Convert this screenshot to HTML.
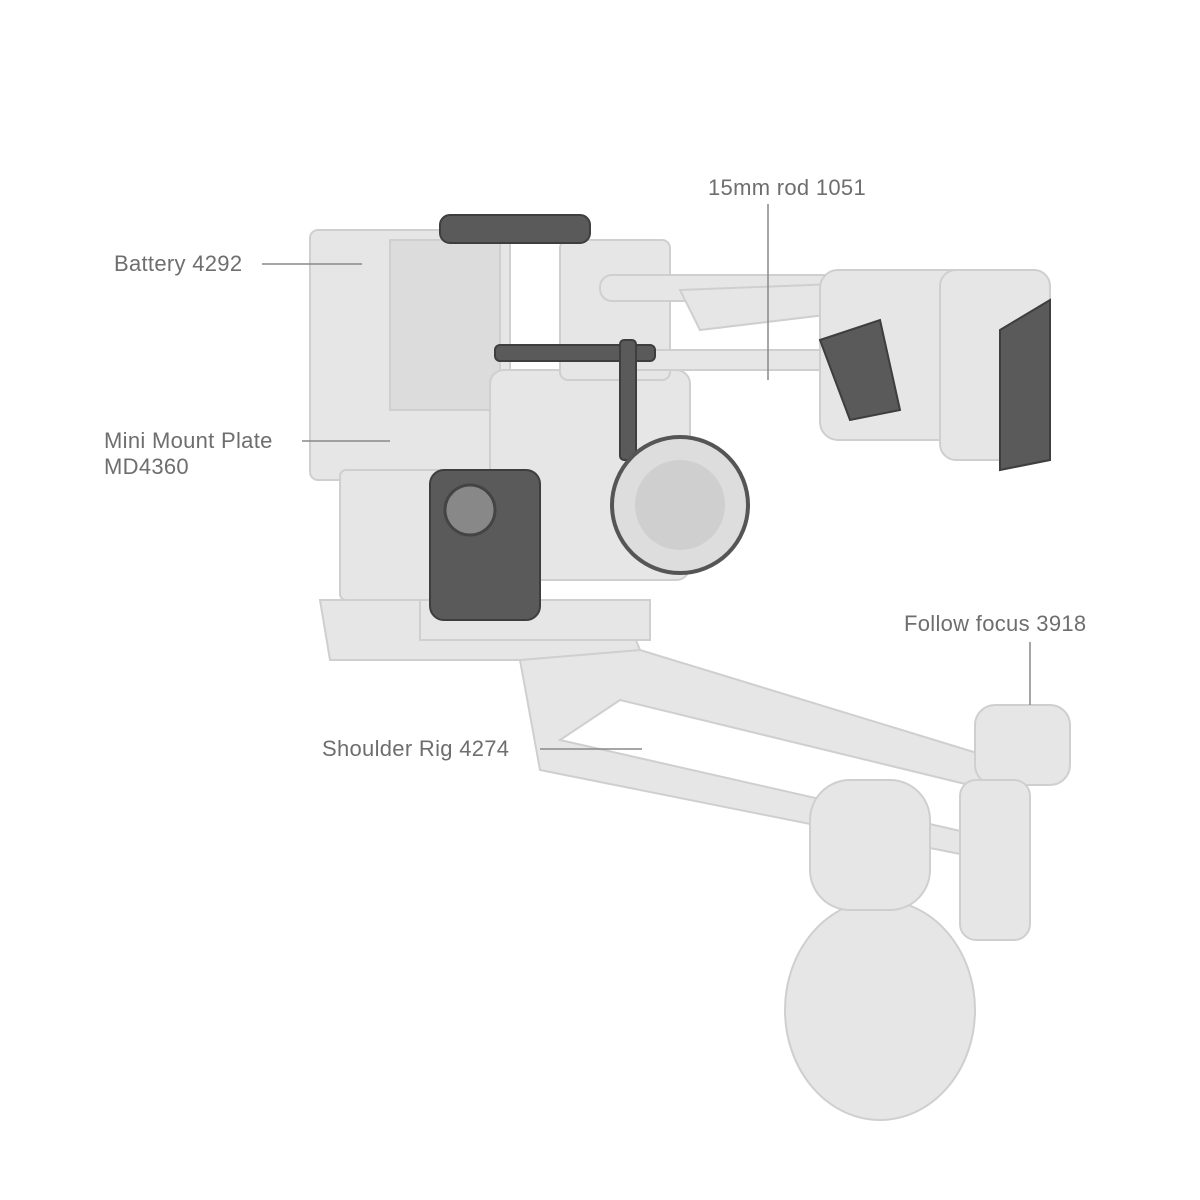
<!DOCTYPE html>
<html><head><meta charset="utf-8"><style>
html,body{margin:0;padding:0;background:#fff;}
body{width:1200px;height:1200px;position:relative;overflow:hidden;font-family:"Liberation Sans",sans-serif;}
.l{position:absolute;font-size:22px;letter-spacing:0.3px;color:#6e6e6e;white-space:nowrap;line-height:26px;}
</style></head><body>
<svg width="1200" height="1200" style="position:absolute;left:0;top:0">
<g fill="#e6e6e6" stroke="#cfcfcf" stroke-width="2">
 <polygon points="320,600 620,600 640,650 560,660 330,660"/>
 <polygon points="520,660 640,650 1000,760 990,790 620,700 560,740 1000,840 990,860 540,770"/>
 <rect x="420" y="600" width="230" height="40"/>
 <rect x="310" y="230" width="200" height="250" rx="8"/>
 <rect x="390" y="240" width="110" height="170" fill="#dcdcdc"/>
 <rect x="340" y="470" width="150" height="130" rx="6"/>
 <rect x="490" y="370" width="200" height="210" rx="14"/>
 <rect x="560" y="240" width="110" height="140" rx="8"/>
 <rect x="600" y="275" width="250" height="26" rx="12"/>
 <rect x="620" y="350" width="260" height="20" rx="10"/>
 <polygon points="680,290 940,280 950,300 700,330"/>
 <rect x="820" y="270" width="230" height="170" rx="18"/>
 <rect x="940" y="270" width="110" height="190" rx="16"/>
 <ellipse cx="880" cy="1010" rx="95" ry="110"/>
 <rect x="810" y="780" width="120" height="130" rx="40"/>
 <rect x="975" y="705" width="95" height="80" rx="20"/>
 <rect x="960" y="780" width="70" height="160" rx="16"/>
</g>
<g fill="#5a5a5a" stroke="#3e3e3e" stroke-width="2">
 <rect x="430" y="470" width="110" height="150" rx="14"/>
 <rect x="495" y="345" width="160" height="16" rx="5"/>
 <rect x="620" y="340" width="16" height="120" rx="4"/>
 <rect x="440" y="215" width="150" height="28" rx="10"/>
 <polygon points="1000,330 1050,300 1050,460 1000,470"/>
 <polygon points="820,340 880,320 900,410 850,420"/>
</g>
<circle cx="680" cy="505" r="68" fill="#ddd" stroke="#555" stroke-width="4"/>
<circle cx="680" cy="505" r="45" fill="#cfcfcf"/>
<circle cx="470" cy="510" r="25" fill="#888" stroke="#444" stroke-width="3"/>
<g stroke="#888" stroke-width="1.5">
 <line x1="262" y1="264" x2="362" y2="264"/>
 <line x1="768" y1="204" x2="768" y2="380"/>
 <line x1="302" y1="441" x2="390" y2="441"/>
 <line x1="1030" y1="642" x2="1030" y2="705"/>
 <line x1="540" y1="749" x2="642" y2="749"/>
</g>
</svg>
<div class="l" style="left:114px;top:251px">Battery 4292</div>
<div class="l" style="left:708px;top:175px">15mm rod 1051</div>
<div class="l" style="left:104px;top:428px">Mini Mount Plate<br>MD4360</div>
<div class="l" style="left:904px;top:611px">Follow focus 3918</div>
<div class="l" style="left:322px;top:736px">Shoulder Rig 4274</div>
</body></html>
